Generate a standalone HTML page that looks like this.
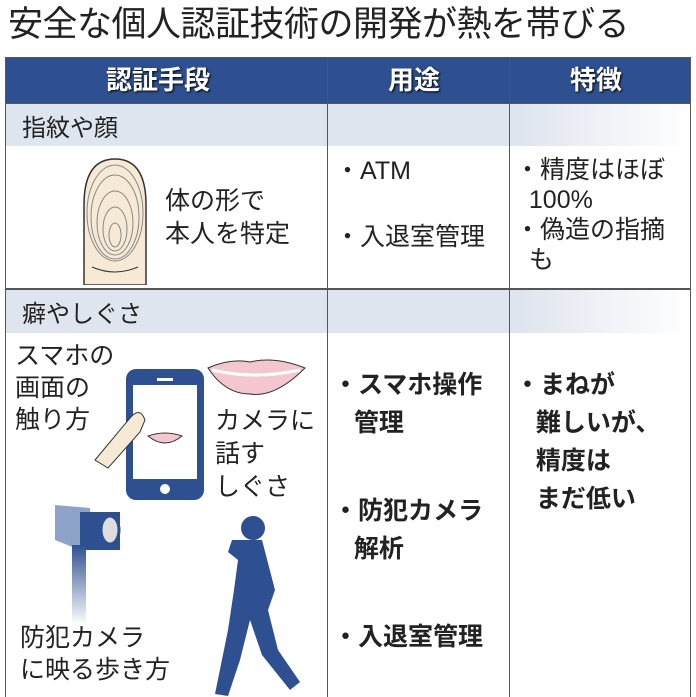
<!DOCTYPE html>
<html><head><meta charset="utf-8"><style>
body{margin:0;width:696px;height:696px;background:#fff;position:relative;overflow:hidden;font-family:"Liberation Sans","Noto Sans CJK JP",sans-serif;color:#222}
.a{position:absolute;white-space:nowrap}
.t{font-size:35px;left:8px;top:-4px;letter-spacing:-0.5px}
.h{color:#fff;font-weight:bold;font-size:26px;top:60px;text-shadow:1px 1px 2px #000}
.s{font-size:24px}
.b{font-weight:bold;font-size:25px;line-height:38px}
.n{font-size:25px;line-height:33px}
</style></head><body>
<div class="a t">安全な個人認証技術の開発が熱を帯びる</div>
<div class="a" style="left:5px;top:57px;width:686px;height:46px;background:#2e5090"></div>
<div class="a" style="left:5px;top:103px;width:686px;height:43px;background:linear-gradient(90deg,#dfe5ee 75%,#fff)"></div>
<div class="a" style="left:5px;top:290px;width:686px;height:43px;background:linear-gradient(90deg,#dfe5ee 75%,#fff)"></div>
<div class="a" style="left:5px;top:57px;width:1px;height:640px;background:#555"></div>
<div class="a" style="left:690px;top:57px;width:1px;height:640px;background:#555"></div>
<div class="a" style="left:327px;top:57px;width:1px;height:640px;background:#555"></div>
<div class="a" style="left:509px;top:57px;width:1px;height:640px;background:#555"></div>
<div class="a" style="left:5px;top:57px;width:686px;height:1px;background:#555"></div>
<div class="a" style="left:5px;top:103px;width:686px;height:1px;background:#555"></div>
<div class="a" style="left:5px;top:288px;width:686px;height:2px;background:#555"></div>
<div class="a h" style="left:106px">認証手段</div>
<div class="a h" style="left:388px">用途</div>
<div class="a h" style="left:570px">特徴</div>
<div class="a s" style="left:22px;top:108px">指紋や顔</div>
<div class="a s" style="left:22px;top:294px">癖やしぐさ</div>
<svg class="a" style="left:80px;top:155px" width="70" height="130">
<path d="M4 130 L4 50 Q4 4 35 4 Q66 4 66 50 L66 130 Z" fill="#f6ead6" stroke="#333" stroke-width="1.5"/>
<g fill="none" stroke="#888" stroke-width="1">
<ellipse cx="35" cy="80" rx="6" ry="12"/><ellipse cx="35" cy="74" rx="12" ry="22"/><ellipse cx="35" cy="68" rx="18" ry="32"/><ellipse cx="35" cy="62" rx="24" ry="42"/><ellipse cx="35" cy="58" rx="28" ry="48"/>
</g>
<path d="M12 112 Q35 122 58 112" stroke="#333" fill="none"/>
</svg>
<div class="a n" style="left:165px;top:185px">体の形で<br>本人を特定</div>
<div class="a n" style="left:335px;top:155px">・ATM</div>
<div class="a n" style="left:335px;top:221px">・入退室管理</div>
<div class="a n" style="left:515px;top:155px;line-height:30px">・精度はほぼ<br>&nbsp;&nbsp;100%<br>・偽造の指摘<br>&nbsp;&nbsp;も</div>
<div class="a n" style="left:15px;top:340px;line-height:32px">スマホの<br>画面の<br>触り方</div>
<div class="a n" style="left:215px;top:405px;line-height:33px">カメラに<br>話す<br>しぐさ</div>
<div class="a n" style="left:20px;top:622px;line-height:32px">防犯カメラ<br>に映る歩き方</div>
<svg class="a" style="left:0;top:290px" width="327" height="406">
<rect x="126" y="79" width="78" height="131" rx="10" fill="#2e5090"/>
<rect x="133" y="95" width="64" height="94" fill="#fff"/>
<rect x="157" y="88" width="16" height="3" fill="#fff"/>
<circle cx="165" cy="199" r="5" fill="#fff"/>
<path d="M95 170 L130 128 Q140 116 145 130 L140 142 L108 178 Z" fill="#f6ead6" stroke="#333"/>
<path d="M148 146 Q165 140 182 146 Q165 160 148 146 Z" fill="#f3c6d0" stroke="#333"/>
<path d="M208 78 Q230 68 250 72 Q275 66 305 78 Q275 108 250 104 Q225 104 208 78 Z" fill="#f3c6d0" stroke="#333"/>
<path d="M212 80 Q255 90 300 80" stroke="#fff" stroke-width="3" fill="none"/>
<polygon points="55,215 90,218 92,245 80,260 55,250" fill="#8fa3c8"/>
<rect x="80" y="222" width="40" height="38" fill="#2e5090"/>
<ellipse cx="110" cy="240" rx="9" ry="14" fill="#ddd" stroke="#2e5090" stroke-width="3"/>
<rect x="72" y="255" width="14" height="80" fill="url(#g)"/>
<defs><linearGradient id="g" x1="0" y1="0" x2="0" y2="1"><stop offset="0" stop-color="#2e5090"/><stop offset="1" stop-color="#fff"/></linearGradient></defs>
<g fill="#2e5090">
<circle cx="253" cy="238" r="12"/>
<path d="M244 250 L262 250 L275 300 L268 320 L278 360 L300 392 L290 400 L262 365 L250 330 L240 370 L228 406 L215 404 L228 340 L234 300 L238 270 L228 262 L232 250 Z"/>
</g>
</svg>
<div class="a b" style="left:333px;top:366px">・スマホ操作<br>&nbsp;&nbsp;&nbsp;管理</div>
<div class="a b" style="left:333px;top:492px">・防犯カメラ<br>&nbsp;&nbsp;&nbsp;解析</div>
<div class="a b" style="left:333px;top:618px">・入退室管理</div>
<div class="a b" style="left:515px;top:366px">・まねが<br>&nbsp;&nbsp;&nbsp;難しいが、<br>&nbsp;&nbsp;&nbsp;精度は<br>&nbsp;&nbsp;&nbsp;まだ低い</div>
</body></html>
